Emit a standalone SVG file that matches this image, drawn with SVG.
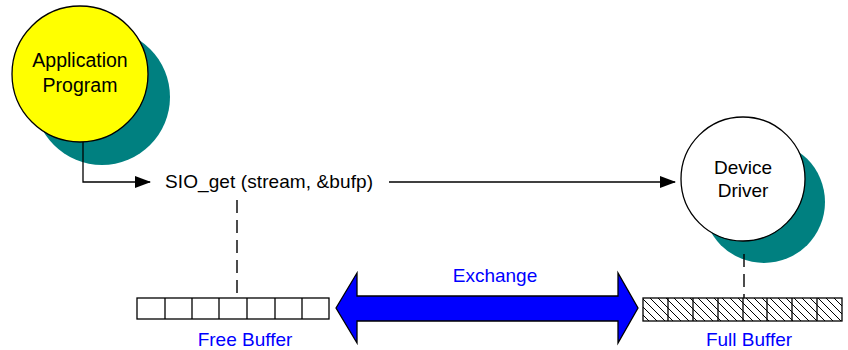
<svg xmlns="http://www.w3.org/2000/svg" width="848" height="350" viewBox="0 0 848 350">
<defs>
<style>
text{font-family:"Liberation Sans",Arial,sans-serif;}
.lbl{font-size:19px;fill:#000;text-anchor:middle;}
.blue{font-size:19px;fill:#0000ff;text-anchor:middle;}
.shadow{fill:#008080;}
.line{stroke:#000;stroke-width:1.3;fill:none;}
.dash{stroke:#000;stroke-width:1.4;stroke-dasharray:13,7;fill:none;}
.cell{fill:#fff;stroke:#000;stroke-width:1.3;}
</style>
<marker id="ah" markerWidth="16" markerHeight="12" refX="15" refY="6" orient="auto" markerUnits="userSpaceOnUse">
<path d="M0,0 L16,6 L0,12 Z" fill="#000"/>
</marker>
<pattern id="hatch" width="8" height="8" patternUnits="userSpaceOnUse">
<rect width="8" height="8" fill="#fff"/>
<path d="M-2,-2 L10,10 M-2,6 L2,10 M6,-2 L10,2" stroke="#000" stroke-width="1"/>
</pattern>
</defs>
<rect width="848" height="350" fill="#fff"/>
<g id="app">
<circle class="shadow" cx="102" cy="97" r="68"/>
<circle cx="80" cy="74" r="68" fill="#ffff00" stroke="#000" stroke-width="1.3"/>
<text class="lbl" x="80" y="67" style="font-size:19.5px">Application</text>
<text class="lbl" x="80" y="92" style="font-size:19.5px">Program</text>
</g>
<g id="driver">
<circle class="shadow" cx="764" cy="202" r="61"/>
<circle cx="743" cy="179" r="62" fill="#fff" stroke="#000" stroke-width="1.3"/>
<text class="lbl" x="743" y="174">Device</text>
<text class="lbl" x="743" y="197">Driver</text>
</g>
<g id="call">
<text x="165" y="188" style="font-size:19px" fill="#000" textLength="208">SIO_get (stream, &amp;bufp)</text>
</g>
<g id="freebuf">
<rect class="cell" x="137" y="298" width="192" height="21"/>
<path class="line" d="M165,298V319 M192,298V319 M219,298V319 M247,298V319 M275,298V319 M302,298V319"/>
<text class="blue" x="245" y="346">Free Buffer</text>
</g>
<g id="fullbuf">
<rect x="643" y="298" width="199" height="23" fill="url(#hatch)" stroke="#000" stroke-width="1.3"/>
<path class="line" d="M668,298V321 M693,298V321 M718,298V321 M743,298V321 M767,298V321 M792,298V321 M817,298V321"/>
<text class="blue" x="749" y="346">Full Buffer</text>
</g>
<g id="exchange">
<path d="M336,308 L357,273 L357,296 L618,296 L618,273 L638,308 L618,343 L618,321 L357,321 L357,343 Z" fill="#0000ff" stroke="#000" stroke-width="1.3"/>
<text class="blue" x="495" y="282">Exchange</text>
</g>
<g id="connectors">
<path class="line" d="M83,142 V182 H150" marker-end="url(#ah)"/>
<path class="line" d="M389,182 H675" marker-end="url(#ah)"/>
<path class="dash" d="M237,200 V298"/>
<path class="dash" d="M744,254 V298"/>
</g>
</svg>
